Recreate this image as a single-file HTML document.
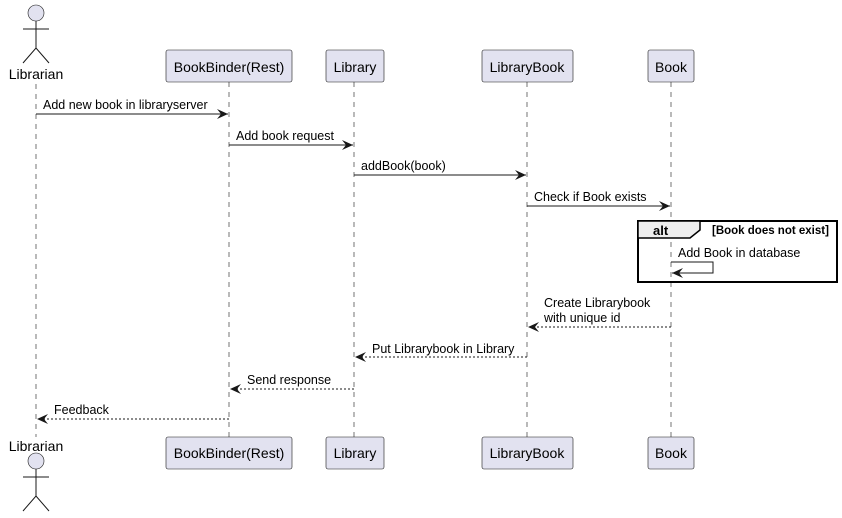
<!DOCTYPE html>
<html><head><style>body{margin:0;background:#fff}svg{display:block}text{font-family:"Liberation Sans",sans-serif}</style></head><body>
<svg width="842" height="518" viewBox="0 0 842 518" xmlns="http://www.w3.org/2000/svg">
<defs>
<marker id="a" markerWidth="12" markerHeight="10" refX="11" refY="5" orient="auto" markerUnits="userSpaceOnUse"><path d="M0,0 L11,5 L0,10 L4,5 Z" fill="#181818"/></marker>
</defs>
<g stroke="#181818" stroke-width="0.6" stroke-dasharray="5,5">
<line x1="36" y1="84" x2="36" y2="437"/><line x1="229" y1="82" x2="229" y2="437"/><line x1="354" y1="82" x2="354" y2="437"/><line x1="527" y1="82" x2="527" y2="437"/><line x1="671" y1="82" x2="671" y2="437"/>
</g>
<g fill="#E2E2F0" stroke="#181818" stroke-width="0.6">
<rect x="166" y="50" width="126" height="32" rx="2"/><rect x="326" y="50" width="58" height="32" rx="2"/><rect x="482" y="50" width="91" height="32" rx="2"/><rect x="648" y="50" width="46" height="32" rx="2"/>
<rect x="166" y="437" width="126" height="32" rx="2"/><rect x="326" y="437" width="58" height="32" rx="2"/><rect x="482" y="437" width="91" height="32" rx="2"/><rect x="648" y="437" width="46" height="32" rx="2"/>
<circle cx="36" cy="13" r="8"/><circle cx="36" cy="461" r="8"/>
</g>
<g stroke="#181818" fill="none" stroke-width="1">
<path d="M36,21V48M23,29H49M23,63L36,48L49,63"/>
<path d="M36,469V496M23,477H49M23,511L36,496L49,511"/>
</g>
<g font-size="14" fill="#000" text-anchor="middle">
<text x="229" y="72">BookBinder(Rest)</text><text x="355" y="72">Library</text><text x="527" y="72">LibraryBook</text><text x="671" y="72">Book</text>
<text x="229" y="458">BookBinder(Rest)</text><text x="355" y="458">Library</text><text x="527" y="458">LibraryBook</text><text x="671" y="458">Book</text>
<text x="36" y="79">Librarian</text><text x="36" y="451">Librarian</text>
</g>
<g stroke="#181818" stroke-width="1" fill="none">
<line x1="36" y1="114" x2="228" y2="114" marker-end="url(#a)"/>
<line x1="229" y1="145" x2="353" y2="145" marker-end="url(#a)"/>
<line x1="354" y1="175" x2="526" y2="175" marker-end="url(#a)"/>
<line x1="527" y1="206" x2="670" y2="206" marker-end="url(#a)"/>
<path d="M671,262H713V273H672" marker-end="url(#a)"/>
<g stroke-dasharray="2,2">
<line x1="671" y1="327" x2="528" y2="327" marker-end="url(#a)"/>
<line x1="527" y1="357" x2="355" y2="357" marker-end="url(#a)"/>
<line x1="354" y1="389" x2="230" y2="389" marker-end="url(#a)"/>
<line x1="229" y1="419" x2="37" y2="419" marker-end="url(#a)"/>
</g>
</g>
<rect x="638" y="221" width="199" height="61" fill="none" stroke="#000" stroke-width="2"/>
<path d="M638,221H700V230L690,238H638Z" fill="#EEEEEE" stroke="#000" stroke-width="1.5"/>
<text x="653" y="235" font-size="13" font-weight="bold">alt</text>
<text x="712" y="234" font-size="11.5" font-weight="bold">[Book does not exist]</text>
<g font-size="12.5" fill="#000">
<text x="43" y="109">Add new book in libraryserver</text>
<text x="236" y="140">Add book request</text>
<text x="361" y="170">addBook(book)</text>
<text x="534" y="201">Check if Book exists</text>
<text x="678" y="257">Add Book in database</text>
<text x="544" y="307">Create Librarybook</text>
<text x="544" y="322">with unique id</text>
<text x="372" y="353">Put Librarybook in Library</text>
<text x="247" y="384">Send response</text>
<text x="54" y="414">Feedback</text>
</g>
</svg>
</body></html>
